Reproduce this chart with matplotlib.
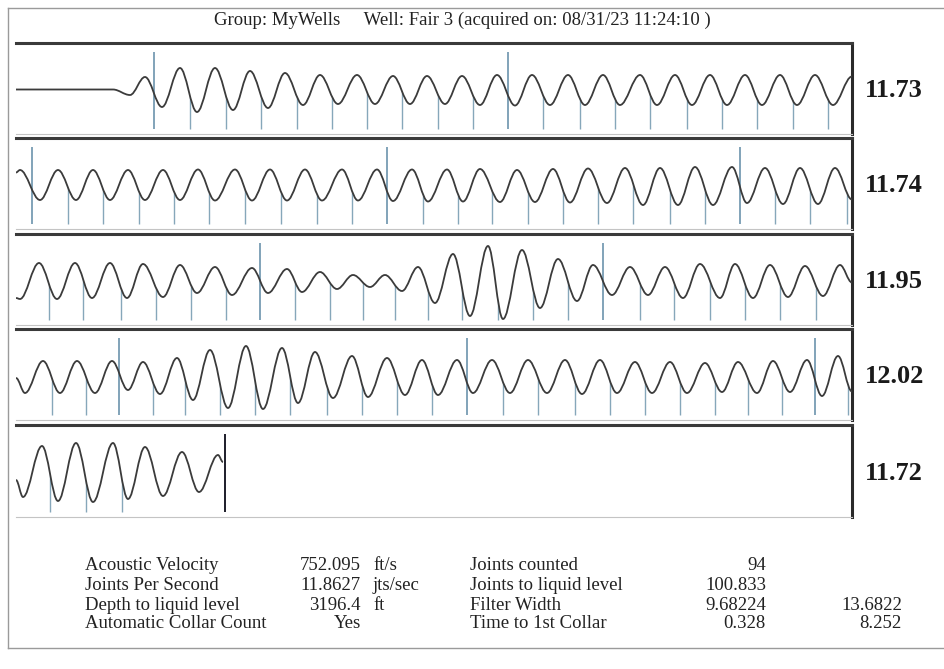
import matplotlib
matplotlib.use("Agg")
import matplotlib.pyplot as plt
from matplotlib.path import Path
from matplotlib.patches import PathPatch

# trace data: extrema of each panel (x in samples, 418 samples/s, 2 s per panel)
p1_x = [0, 97, 114, 129, 146, 164, 181, 199, 217, 234, 252, 269, 287, 304, 322, 341, 359, 377, 394, 411,
        429, 446, 464, 481, 499, 516, 534, 552, 569, 587, 604, 624, 641, 659, 676, 694, 711, 729, 746, 764,
        781, 799, 817, 836]
p1_amp = [-1, -1, -6.5, 11.5, -18.5, 20.5, -23.5, 20.5, -21.5, 17.5, -19.5, 15.5, -16.5, 13.5, -15.5, 13.5,
          -15.5, 12.5, -15.5, 12.5, -15.5, 12.5, -16.5, 13.5, -17, 13.5, -16.5, 13.5, -16.5, 13.5, -16.5, 13.5,
          -16.5, 13.5, -16.5, 13.5, -16.5, 13.5, -16.5, 13.5, -16.5, 13.5, -16.5, 12]
p1_short = [174, 210, 245, 281, 316, 351, 386, 422, 457, 527, 564, 599, 634, 671, 706, 741, 777, 812]
p1_long = [138, 492]

p2_x = [0, 4, 24, 42, 60, 77, 94, 112, 129, 147, 164, 182, 199, 219, 236, 254, 271, 289, 306, 326, 342,
        361, 377, 396, 412, 431, 447, 464, 484, 501, 519, 537, 554, 572, 591, 609, 627, 644, 662, 679, 697,
        716, 731, 749, 767, 784, 802, 819, 836]
p2_amp = [11, 13.5, -16.5, 13.5, -16.5, 13.5, -16.5, 13.5, -16.5, 13.5, -16.5,
          14, -17, 14, -17, 14, -17, 14, -17, 14, -17,
          14, -17.5, 14, -18, 14, -18, 14.5, -18.5, 13.5, -18.5,
          14.5, -19, 15, -19.5, 15.5, -21.5, 15.5, -21.5, 16.5, -21.5,
          16.5, -19.5, 15.5, -20.5, 15.5, -20.5, 15.5, -16]
p2_short = [52, 87, 123, 158, 193, 229, 265, 301, 336, 407, 442, 476, 512, 547, 582, 617, 654, 689, 759,
            794, 831]
p2_long = [16, 371, 724]

p3_x = [0, 4, 23, 41, 59, 76, 94, 111, 127, 147, 164, 181, 199, 216, 236, 252, 271, 286, 304, 321,
        337, 354, 369, 386, 402, 419, 437, 454, 472, 487, 506, 524, 542, 561, 577, 596, 614, 632, 649, 667,
        684, 704, 719, 737, 754, 772, 789, 807, 824, 836]
p3_amp = [-18.5, -19.5, 16.5, -19.5, 16.5, -18.5, 16.5, -18.5, 15.5, -17.5,
          14.5, -13.5, 12.5, -15.5, 11.5, -13.5, 10.5, -12.5, 7.5, -9.5,
          4.5, -7.5, 4.5, -11.5, 12.5, -23.5, 25.5, -36.5, 33.5, -39.5,
          29.5, -28.5, 20.5, -21.5, 14.5, -15.5, 12.5, -15.5, 12.5, -18.5,
          15.5, -18.5, 15.5, -18.5, 14.5, -17.5, 13.5, -16.5, 14.5, -3]
p3_short = [33, 67, 105, 140, 175, 210, 279, 314, 347, 379, 412, 446, 482, 517, 552, 624, 658, 694, 729,
            764, 800]
p3_long = [244, 587]

p4_x = [0, 9, 27, 44, 61, 79, 96, 112, 127, 144, 161, 177, 194, 212, 230, 247, 266, 282, 299, 317,
        336, 352, 371, 389, 406, 422, 441, 457, 476, 494, 512, 531, 549, 566, 584, 601, 619, 636, 654, 671,
        689, 706, 722, 741, 757, 774, 791, 806, 822, 836]
p4_amp = [-3.5, -18.5, 13.5, -18.5, 13.5, -18.5, 13.5, -15.5, 12.5, -19.5,
          16.5, -25.5, 24.5, -33.5, 28.5, -34.5, 26.5, -28.5, 22.5, -23.5,
          18.5, -22.5, 16.5, -20.5, 14.5, -20.5, 14.5, -18.5, 14.5, -18.5,
          14.5, -18.5, 14.5, -19.5, 14.5, -18.5, 12.5, -18.5, 12.5, -18.5,
          11.5, -17.5, 12.5, -18.5, 13.5, -17.5, 14.5, -21.5, 18.5, -17]
p4_short = [36, 70, 137, 169, 204, 239, 274, 311, 346, 381, 416, 487, 522, 559, 594, 629, 664, 699, 732,
            766, 832]
p4_long = [103, 451, 799]

p5_x = [0, 7, 26, 42, 60, 77, 97, 112, 129, 147, 166, 183, 202, 207]
p5_amp = [-9, -26, 25, -30, 28, -31, 28, -28, 24, -25, 19, -21, 16, 9]
p5_short = [34, 70, 106]
p5_long = []
liquid_level = 209

segment_rates = ["11.73", "11.74", "11.95", "12.02", "11.72"]

title = "Group: MyWells     Well: Fair 3 (acquired on: 08/31/23 11:24:10 )"
left_names = ["Acoustic Velocity", "Joints Per Second", "Depth to liquid level", "Automatic Collar Count"]
left_values = ["752.095", "11.8627", "3196.4", "Yes"]
left_units = ["ft/s", "jts/sec", "ft", ""]
right_names = ["Joints counted", "Joints to liquid level", "Filter Width", "Time to 1st Collar"]
right_values = ["94", "100.833", "9.68224", "0.328"]
right_extra = ["", "", "13.6822", "8.252"]

panels = [(p1_x, p1_amp, p1_short, p1_long), (p2_x, p2_amp, p2_short, p2_long),
          (p3_x, p3_amp, p3_short, p3_long), (p4_x, p4_amp, p4_short, p4_long),
          (p5_x, p5_amp, p5_short, p5_long)]

W, H = 944, 669
plt.rcParams["font.family"] = ["Liberation Serif", "DejaVu Serif"]

fig = plt.figure(figsize=(W / 100, H / 100), dpi=100)

# page layer in pixel coordinates
bg = fig.add_axes([0, 0, 1, 1])
bg.set_xlim(0, W)
bg.set_ylim(H, 0)
bg.axis("off")
bg.plot([8, W], [8, 8], color="#9a9a9a", lw=1)
bg.plot([8, 8], [8, 648], color="#9a9a9a", lw=1)
bg.plot([8, W], [648, 648], color="#9a9a9a", lw=1)
bg.text(462, 20, title, ha="center", va="center", fontsize=13.5, color="#222")

tops = [43, 138, 234, 329, 425]
bottoms = [134, 229, 325, 420, 517]
x0_px, x1_px = 16, 852


def wave(xs, ys, k=0.36):
    verts = [(xs[0], ys[0])]
    codes = [Path.MOVETO]
    for a, b, c, d in zip(xs[:-1], ys[:-1], xs[1:], ys[1:]):
        dx = c - a
        verts += [(a + k * dx, b), (c - k * dx, d), (c, d)]
        codes += [Path.CURVE4] * 3
    return verts, codes


for i, (xs, amps, short, long_) in enumerate(panels):
    t, b = tops[i], bottoms[i]
    h = b - t
    ax = fig.add_axes([x0_px / W, 1 - b / H, (x1_px - x0_px) / W, h / H])
    ax.set_xlim(0, x1_px - x0_px)
    ax.set_ylim(-h / 2, h / 2)
    ax.set_xticks([])
    ax.set_yticks([])
    ax.patch.set_alpha(0)
    ax.spines["left"].set_visible(False)
    ax.spines["top"].set_linewidth(2.2)
    ax.spines["top"].set_color("#3a3a3a")
    ax.spines["bottom"].set_linewidth(0.8)
    ax.spines["bottom"].set_color("#c4c4c4")
    ax.spines["right"].set_linewidth(2.2)
    ax.spines["right"].set_color("#2a2a2a")

    lo = -h / 2 + 5
    # short collar marks run from the bottom up to the trace
    ax.vlines(short, lo, h / 2, color="#86a7ba", lw=1.0, zorder=1)
    verts, codes = wave(xs, amps)
    mask_v = verts + [(xs[-1], h / 2), (xs[0], h / 2), (xs[0], amps[0])]
    mask_c = codes + [Path.LINETO, Path.LINETO, Path.CLOSEPOLY]
    ax.add_patch(PathPatch(Path(mask_v, mask_c), facecolor="white", edgecolor="none", zorder=2))
    ax.vlines(long_, lo, h / 2 - 9, color="#5f8aa6", lw=1.1, zorder=3)
    ax.add_patch(PathPatch(Path(verts, codes), facecolor="none", edgecolor="#3b3b3b", lw=1.3, zorder=4))
    if i == 4:
        ax.vlines([liquid_level], lo, h / 2 - 9, color="#1d1d2a", lw=1.4, zorder=3)

    bg.text(865, (t + b) / 2 + 2, segment_rates[i], ha="left", va="center", fontsize=19,
            fontweight="bold", color="#1a1a1a")

rows_y = [565, 585, 605, 624]
for j, y in enumerate(rows_y):
    bg.text(85, y, left_names[j], ha="left", va="center", fontsize=13.5, color="#222")
    bg.text(361, y, left_values[j], ha="right", va="center", fontsize=13.5, color="#222")
    bg.text(373, y, left_units[j], ha="left", va="center", fontsize=13.5, color="#222")
    bg.text(470, y, right_names[j], ha="left", va="center", fontsize=13.5, color="#222")
    bg.text(766, y, right_values[j], ha="right", va="center", fontsize=13.5, color="#222")
    bg.text(902, y, right_extra[j], ha="right", va="center", fontsize=13.5, color="#222")

fig.savefig("out.png", dpi=100)
